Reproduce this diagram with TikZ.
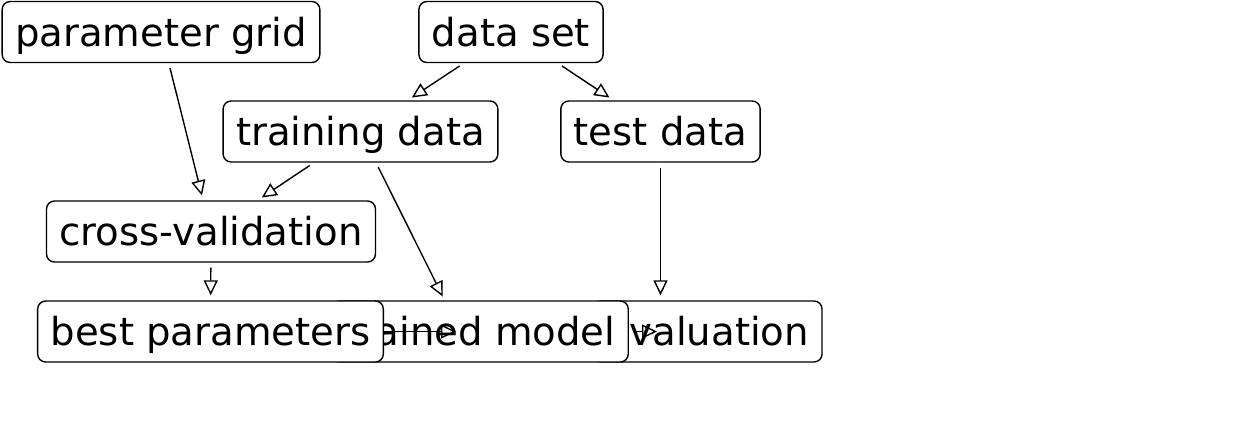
\documentclass[tikz,border=0pt]{standalone}
\usepackage{fontspec}
\setmainfont{DejaVu Sans}
\usepackage{tikz}
\usetikzlibrary{arrows.meta,positioning,calc}

\begin{document}
\begin{tikzpicture}[
  x=0.5pt,y=-0.5pt,
  font=\fontsize{19.3pt}{23pt}\selectfont,
  box/.style={draw,rounded corners=4pt,fill=white,line width=0.7pt,
              minimum height=30.5pt,inner xsep=6.5pt,inner ysep=0pt,
              text height=15pt,text depth=1pt},
  arr/.style={-{Triangle[open,length=7.5pt,width=7pt]},line width=0.7pt,
              shorten <=2.5pt,shorten >=2.5pt}]
\useasboundingbox (0,0) rectangle (1259,446);
% bottom row overlaps: later nodes sit on top
\node[box] (ev) at (707.5,331.5) {evaluation};
\node[box] (tm) at (480,331.5) {trained model};
\node[box] (bp) at (210.5,331.5) {best parameters};
\node[box] (pg) at (161,32) {parameter grid};
\node[box] (ds) at (511,32) {data set};
\node[box] (td) at (360.5,131.5) {training data};
\node[box] (tst) at (660.5,131.5) {test data};
\node[box] (cv) at (211,231.5) {cross-validation};
\coordinate (tmtop) at (445,301);
\coordinate (tmin) at (456,331.5);
\coordinate (evin) at (657,331.5);
\draw[arr] (ds) -- (td);
\draw[arr] (ds) -- (tst);
\draw[arr] (pg) -- (cv);
\draw[arr] (td) -- (cv);
\draw[arr] (td) -- (tmtop);
\draw[arr] (tst.south) -- (tst.south |- ev.north);
\draw[arr] (cv) -- (bp);
\draw[arr,shorten <=0pt,shorten >=0pt] (bp.east) -- (tmin);
\draw[arr,shorten <=2pt,shorten >=0pt] (tm.east) -- (evin);
\end{tikzpicture}
\end{document}
